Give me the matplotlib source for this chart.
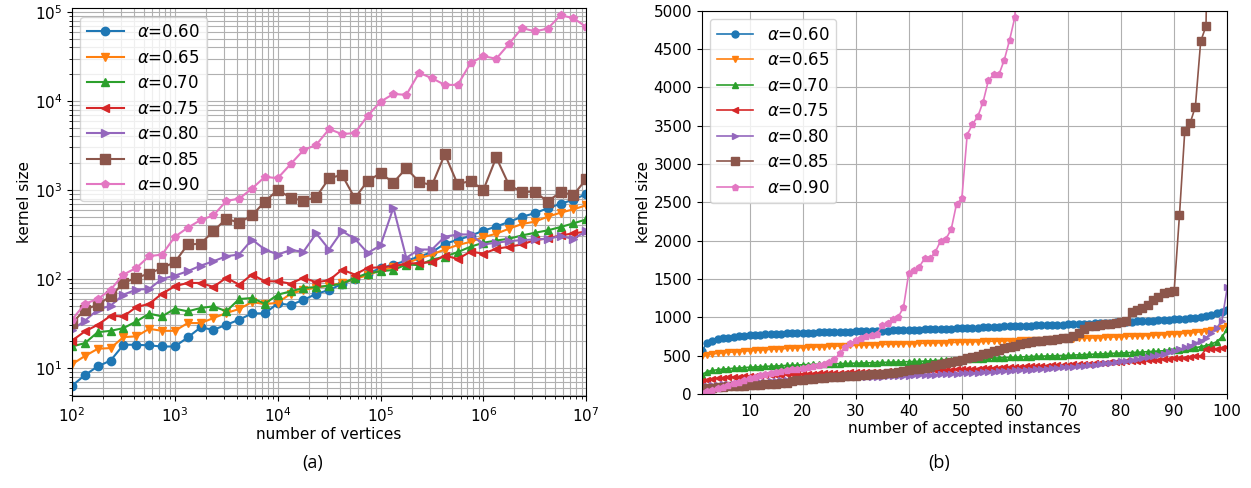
import matplotlib
matplotlib.use("Agg")
import matplotlib.pyplot as plt
import numpy as np

# legend labels / styles
alphas = ["0.60", "0.65", "0.70", "0.75", "0.80", "0.85", "0.90"]
markers = ["o", "v", "^", "<", ">", "s", "p"]
colors = ["#1f77b4", "#ff7f0e", "#2ca02c", "#d62728", "#9467bd", "#8c564b", "#e377c2"]

# (a) number of vertices: 10^2 .. 10^7, 8 points per decade
exponents = [2 + k / 8 for k in range(41)]

a60 = [6.3, 8.3, 10.4, 12.1, 18.2, 18.2, 17.9, 17.4, 17.4, 22, 28.5, 26.8, 30.5, 34.8,
       41, 41, 53, 51, 58, 68, 75, 88, 100, 115, 132, 145, 160, 178, 200, 249, 274,
       306, 348, 388, 438, 499, 548, 622, 700, 775, 900]
a65 = [11, 13.6, 16.4, 16.7, 22.2, 22.6, 27.5, 26.1, 26.1, 31.9, 31.9, 36.3, 41.4, 45.9,
       55, 52, 54, 68, 75, 80, 84, 90, 100, 110, 125, 135, 150, 170, 188, 214, 240,
       261, 295, 322, 367, 414, 440, 500, 555, 605, 672]
a70 = [17.4, 19, 25.2, 26.1, 28, 33.3, 40.7, 37.9, 46.3, 43.2, 47.1, 49.2, 43.2, 59.4,
       61, 52.6, 66.5, 72.4, 79, 81, 84, 88, 103, 115, 122, 126, 145, 143, 165, 178,
       200, 230, 255, 270, 283, 308, 330, 351, 383, 421, 466]
a75 = [20.3, 25.7, 30.5, 38.5, 37.9, 48.3, 52.3, 68.4, 82.7, 90.1, 90.1, 81.3, 103, 86.3,
       112, 94, 94, 88.5, 103, 91.7, 96.6, 127, 112, 133, 135, 139, 148, 151, 154, 183,
       168, 202, 193, 218, 230, 244, 273, 285, 308, 325, 340]
a80 = [26.8, 33.9, 45.1, 50, 66.6, 75.8, 77.1, 100, 109, 122, 141, 158, 180, 188,
       277, 214, 188, 211, 202, 325, 214, 345, 282, 196, 238, 631, 173, 214, 214, 298,
       316, 316, 244, 255, 266, 273, 278, 282, 303, 282, 345]
a85 = [31.9, 45.1, 51.4, 63.8, 90.1, 103, 115, 133, 154, 244, 248, 345, 475, 428,
       518, 738, 1000, 820, 752, 834, 1355, 1477, 806, 1265, 1540, 1210, 1755, 1231,
       1130, 2523, 1158, 1265, 1000, 2317, 1130, 948, 957, 738, 948, 879, 1320]
a90 = [34.8, 52.7, 59.4, 75.8, 112, 133, 180, 188, 298, 376, 459, 518, 752, 798,
       1036, 1403, 1355, 1946, 2800, 3218, 4834, 4243, 4357, 6834, 9822, 11990, 11700,
       20700, 18030, 15150, 15150, 26600, 31900, 29800, 43960, 66000, 60600, 64900,
       91600, 85500, 67700]

# (b) sorted kernel sizes of the accepted instances
b60 = [560, 665, 690, 710, 725, 735, 742, 750, 757, 763,
       768, 772, 776, 779, 782, 785, 788, 790, 792, 795,
       797, 799, 801, 803, 805, 806, 808, 810, 812, 814,
       816, 818, 820, 822, 824, 826, 828, 830, 832, 834,
       836, 838, 840, 842, 845, 847, 849, 851, 853, 856,
       858, 861, 864, 867, 870, 873, 876, 879, 882, 885,
       887, 889, 891, 893, 895, 897, 899, 901, 903, 906,
       908, 911, 914, 917, 920, 923, 926, 929, 932, 935,
       938, 941, 944, 947, 950, 953, 957, 961, 965, 970,
       975, 981, 988, 996, 1005, 1015, 1030, 1050, 1070, 1100]
b65 = [490, 510, 520, 528, 535, 541, 547, 552, 557, 562,
       567, 572, 576, 580, 584, 588, 592, 596, 600, 604,
       607, 610, 613, 616, 619, 622, 625, 628, 631, 634,
       636, 638, 640, 642, 644, 646, 648, 650, 652, 654,
       656, 658, 660, 662, 664, 666, 668, 670, 672, 675,
       677, 679, 681, 683, 685, 687, 689, 691, 693, 695,
       697, 699, 701, 703, 705, 707, 709, 711, 713, 716,
       719, 722, 725, 728, 731, 734, 737, 740, 743, 746,
       749, 752, 755, 758, 761, 764, 768, 772, 776, 780,
       785, 790, 796, 802, 810, 818, 828, 840, 860, 880]
b70 = [250, 290, 305, 315, 322, 328, 333, 338, 343, 347,
       351, 355, 358, 361, 364, 367, 370, 373, 376, 379,
       382, 384, 386, 388, 390, 392, 394, 396, 398, 400,
       402, 404, 406, 408, 410, 412, 414, 416, 418, 420,
       422, 424, 427, 430, 433, 436, 439, 442, 445, 448,
       451, 454, 457, 460, 463, 466, 469, 472, 475, 478,
       481, 484, 487, 490, 492, 494, 496, 498, 500, 503,
       506, 509, 512, 515, 518, 521, 524, 527, 530, 533,
       536, 539, 542, 546, 550, 554, 558, 562, 566, 571,
       577, 584, 592, 602, 615, 630, 650, 680, 740, 850]
b75 = [170, 185, 195, 203, 210, 215, 220, 224, 228, 232,
       236, 239, 242, 245, 248, 251, 254, 256, 258, 261,
       263, 265, 267, 269, 271, 273, 275, 277, 279, 281,
       283, 285, 287, 289, 291, 293, 295, 297, 299, 301,
       303, 305, 307, 309, 311, 313, 315, 317, 319, 321,
       324, 327, 330, 333, 336, 339, 342, 345, 348, 351,
       354, 357, 360, 363, 366, 369, 372, 375, 378, 381,
       384, 387, 390, 394, 398, 402, 406, 410, 414, 418,
       422, 426, 430, 434, 438, 442, 447, 452, 457, 462,
       468, 474, 480, 488, 496, 580, 585, 590, 595, 605]
b80 = [80, 100, 110, 118, 124, 129, 133, 137, 141, 145,
       150, 155, 160, 165, 170, 174, 178, 182, 186, 190,
       193, 196, 199, 202, 205, 208, 210, 212, 214, 216,
       218, 220, 222, 224, 226, 228, 230, 232, 234, 237,
       240, 243, 246, 249, 252, 255, 258, 261, 264, 267,
       270, 273, 277, 281, 285, 289, 293, 297, 301, 305,
       309, 313, 317, 321, 325, 329, 334, 339, 344, 349,
       355, 361, 367, 374, 381, 388, 396, 404, 413, 422,
       432, 442, 453, 465, 478, 492, 507, 523, 540, 560,
       580, 605, 630, 660, 690, 730, 800, 860, 950, 1390]
b85 = [50, 70, 80, 88, 93, 97, 100, 104, 108, 112,
       116, 120, 124, 128, 133, 138, 145, 165, 178, 186,
       192, 198, 203, 208, 213, 218, 223, 228, 233, 238,
       243, 248, 253, 258, 264, 270, 277, 285, 295, 305,
       318, 330, 342, 355, 370, 385, 400, 415, 430, 445,
       462, 480, 498, 516, 535, 555, 575, 595, 615, 630,
       645, 660, 672, 683, 692, 700, 708, 716, 725, 735,
       760, 800, 850, 880, 890, 898, 906, 914, 925, 940,
       955, 1070, 1090, 1120, 1160, 1220, 1270, 1310, 1335, 1345,
       2330, 3430, 3530, 3750, 4600, 4800, 9000, 15000, 25000, 40000]
b90 = [15, 35, 55, 75, 95, 115, 135, 160, 180, 200,
       220, 240, 255, 270, 285, 295, 305, 318, 330, 340,
       352, 365, 378, 392, 410, 450, 530, 610, 660, 700,
       735, 760, 770, 780, 900, 930, 980, 1000, 1130, 1580,
       1620, 1660, 1770, 1770, 1850, 2000, 2020, 2150, 2480, 2550,
       3380, 3520, 3620, 3810, 4090, 4170, 4170, 4360, 4620, 4920,
       8000, 9500, 11000, 12500, 14000, 15500, 17000, 18500, 20000, 22000,
       24000, 26000, 28000, 30000, 32000, 34000, 36000, 38000, 40000, 42000,
       44000, 46000, 48000, 50000, 52000, 54000, 56000, 58000, 60000, 62000,
       64000, 66000, 68000, 70000, 72000, 74000, 76000, 80000, 85000, 91000]

left_series = [a60, a65, a70, a75, a80, a85, a90]
right_series = [b60, b65, b70, b75, b80, b85, b90]

plt.rcParams['font.family'] = ['DejaVu Sans']
fig = plt.figure(figsize=(12.51, 4.88), dpi=100)

# ---- (a) ----
ax1 = fig.add_axes([0.0576, 0.188, 0.411, 0.795])
vertices = 10.0 ** np.array(exponents)
for ys, a, m, c in zip(left_series, alphas, markers, colors):
    ms = 7 if m == "s" else 6
    ax1.plot(vertices, ys, marker=m, color=c, markersize=ms, linewidth=1.5,
             label=r"$\alpha$=" + a)
ax1.set_xscale("log")
ax1.set_yscale("log")
ax1.set_xlim(1e2, 1e7)
ax1.set_ylim(4.8, 1.1e5)
ax1.grid(True, which="both", color="#b0b0b0", linewidth=0.8)
ax1.set_xlabel("number of vertices", fontsize=11, labelpad=2)
ax1.set_ylabel("kernel size", fontsize=11, labelpad=2)
ax1.tick_params(labelsize=11)
ax1.legend(loc="upper left", fontsize=12, handlelength=2.2, labelspacing=0.45)

# ---- (b) ----
ax2 = fig.add_axes([0.561, 0.193, 0.42, 0.785])
instances = np.arange(1, len(b60) + 1)
for ys, a, m, c in zip(right_series, alphas, markers, colors):
    ms = 6 if m == "s" else 5
    ax2.plot(instances, ys, marker=m, color=c, markersize=ms, linewidth=1.2,
             label=r"$\alpha$=" + a)
ax2.set_xlim(1, 100)
ax2.set_ylim(0, 5000)
ax2.set_xticks(np.arange(10, 101, 10))
ax2.set_yticks(np.arange(0, 5001, 500))
ax2.grid(True, color="#b0b0b0", linewidth=0.8)
ax2.set_xlabel("number of accepted instances", fontsize=11, labelpad=2)
ax2.set_ylabel("kernel size", fontsize=11, labelpad=2)
ax2.tick_params(labelsize=11)
ax2.legend(loc="upper left", fontsize=12, handlelength=2.2, labelspacing=0.45)

fig.text(0.25, 0.04, "(a)", fontsize=13, ha="center", family=["Open Sans", "DejaVu Sans"])
fig.text(0.751, 0.04, "(b)", fontsize=13, ha="center", family=["Open Sans", "DejaVu Sans"])

fig.savefig("out.png", dpi=100)
